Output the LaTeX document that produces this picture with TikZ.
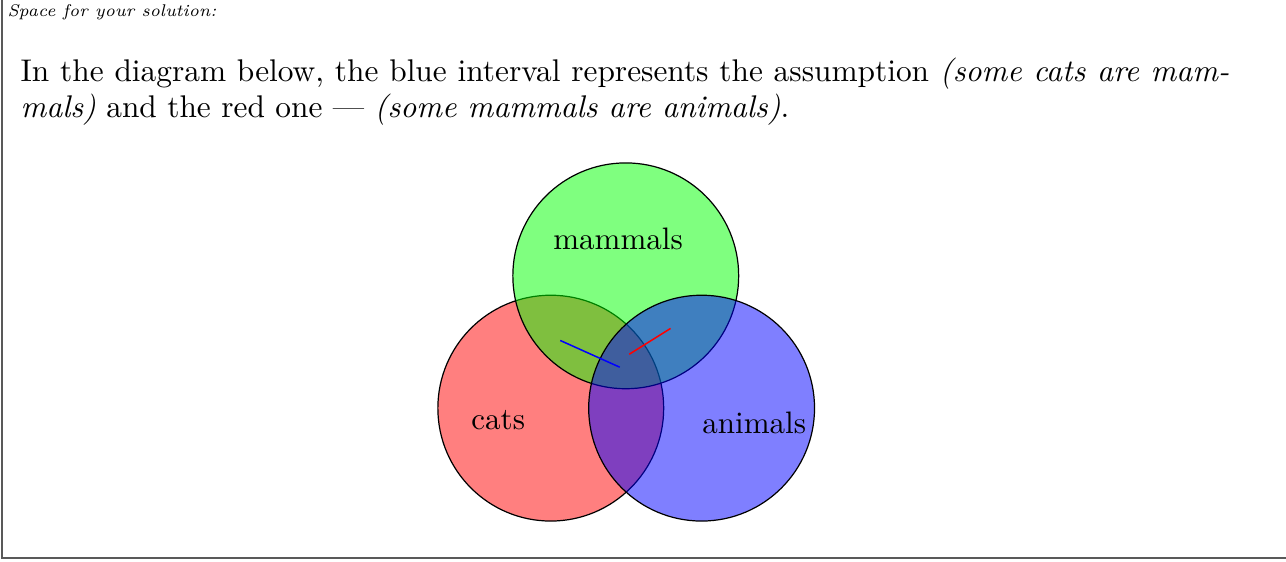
\documentclass[tikz,border=0pt]{standalone}
\usetikzlibrary{positioning}

\begin{document}
\begin{tikzpicture}[
    setcircle/.style={circle, draw=black, fill opacity=0.5, text opacity=1, minimum size=2.62cm, inner sep=0pt},
    setlabel/.style={anchor=base, inner sep=0pt, font=\fontsize{10.25}{12}\selectfont},
    interval/.style={line width=0.5pt}]

    \useasboundingbox (0,0) rectangle (14.92,6.51);

    % Frame
    \draw[black!65, line width=0.7pt] (0.023,6.6) -- (0.023,0.035) -- (15,0.035);

    % Header and text
    \node[anchor=base west, inner sep=0pt, font=\fontsize{5.6}{7}\selectfont\itshape] (head) at (0.08,6.32) {Space for your solution:};
    \node[anchor=base west, inner sep=0pt, text width=399pt, align=justify, font=\fontsize{10.35}{12.1}\selectfont] (txt) at (0.232,5.57)
        {In the diagram below, the blue interval represents the assumption \textit{(some cats are mam-\linebreak mals)} and the red one --- \textit{(some mammals are animals)}.};

    % Sets
    \node[setcircle, fill=red] (cats) at (6.39,1.775) {};
    \node[setcircle, fill=green] (mammals) at (7.26,3.31) {};
    \node[setcircle, fill=blue] (animals) at (8.14,1.775) {};

    % Labels
    \node[setlabel] (lmammals) at (7.17,3.62) {mammals};
    \node[setlabel] (lcats) at (5.78,1.53) {cats};
    \node[setlabel] (lanimals) at (8.75,1.48) {animals};

    % Intervals
    \coordinate (b1) at (6.50,2.56);
    \coordinate (b2) at (7.19,2.25);
    \coordinate (r1) at (7.30,2.40);
    \coordinate (r2) at (7.78,2.70);
    \draw[interval, blue] (b1) -- (b2);
    \draw[interval, red] (r1) -- (r2);

\end{tikzpicture}
\end{document}
